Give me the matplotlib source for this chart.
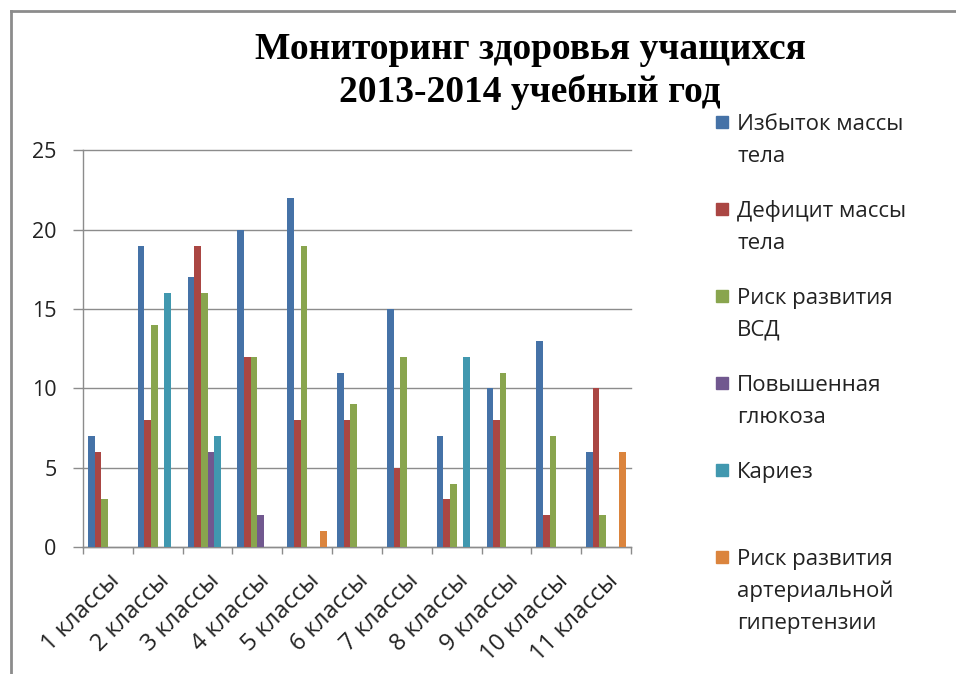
import numpy as np
import matplotlib
matplotlib.use("Agg")
import matplotlib.pyplot as plt
import matplotlib.transforms as mtransforms
from matplotlib.lines import Line2D
from matplotlib.patches import Rectangle

categories = ["1 классы", "2 классы", "3 классы", "4 классы", "5 классы", "6 классы",
              "7 классы", "8 классы", "9 классы", "10 классы", "11 классы"]
series_names = ["Избыток массы\nтела", "Дефицит массы\nтела", "Риск развития\nВСД",
                "Повышенная\nглюкоза", "Кариез", "Риск развития\nартериальной\nгипертензии"]
excess_weight = [7, 19, 17, 20, 22, 11, 15, 7, 10, 13, 6]
weight_deficit = [6, 8, 19, 12, 8, 8, 5, 3, 8, 2, 10]
vsd_risk = [3, 14, 16, 12, 19, 9, 12, 4, 11, 7, 2]
high_glucose = [0, 0, 6, 2, 0, 0, 0, 0, 0, 0, 0]
caries = [0, 16, 7, 0, 0, 0, 0, 12, 0, 0, 0]
hypertension_risk = [0, 0, 0, 0, 1, 0, 0, 0, 0, 0, 6]
yticks = [0, 5, 10, 15, 20, 25]
title = "Мониторинг здоровья учащихся\n2013-2014 учебный год"

series = [excess_weight, weight_deficit, vsd_risk, high_glucose, caries, hypertension_risk]
colors = ["#4572A7", "#AA4643", "#89A54E", "#71588F", "#4198AF", "#DB843D"]

FONT = "Open Sans"
W, H = 956, 674
fig = plt.figure(figsize=(W / 100, H / 100), dpi=100)
fig.patch.set_facecolor("white")

ax = fig.add_axes([83 / W, 1 - 547 / H, (631 - 83) / W, (547 - 150.5) / H])
n = len(series)
gap = 1.5
w = 1.0 / (n + gap)
x = np.arange(len(categories))
for k, (vals, c) in enumerate(zip(series, colors)):
    pos = x - 0.5 + gap * w / 2 + (k + 0.5) * w
    ax.bar(pos, vals, width=w, color=c, edgecolor="none", zorder=3)

ax.set_xlim(-0.5, len(categories) - 0.5)
ax.set_ylim(0, 25)
ax.set_yticks(yticks)
ax.set_yticklabels([str(v) for v in yticks], fontfamily=FONT, fontsize=15.5, color="#222222")
ax.yaxis.grid(True, color="#8c8c8c", linewidth=1.0, zorder=0)
for gl in ax.get_ygridlines():
    gl.set_clip_on(False)
ax.set_xticks(x)
ax.set_xticklabels(categories, rotation=45, ha="right", va="top", rotation_mode="anchor",
                   fontfamily=FONT, fontsize=17, color="#222222")
offset = mtransforms.ScaledTranslation(5 / 100, 0, fig.dpi_scale_trans)
for lab in ax.get_xticklabels():
    lab.set_transform(lab.get_transform() + offset)
ax.set_xticks(np.arange(len(categories) + 1) - 0.5, minor=True)
ax.tick_params(axis="x", which="major", length=0, pad=16)
ax.tick_params(axis="x", which="minor", length=5, color="#8c8c8c", width=1.0)
ax.tick_params(axis="y", length=7, color="#8c8c8c", width=1.0, pad=12)
for s in ["top", "right"]:
    ax.spines[s].set_visible(False)
for s in ["left", "bottom"]:
    ax.spines[s].set_color("#8c8c8c")
    ax.spines[s].set_linewidth(1.0)

# Title
fig.text(530 / W, 1 - 71 / H, title, ha="center", va="center", fontfamily="Liberation Serif",
         fontweight="bold", fontsize=27, linespacing=1.3, color="black")

# Legend
y0 = 122
step = 87
line_h = 32
for k, (name, c) in enumerate(zip(series_names, colors)):
    yc = y0 + k * step
    fig.add_artist(Rectangle((716 / W, 1 - (yc + 6) / H), 12 / W, 12 / H,
                             transform=fig.transFigure, color=c))
    for j, line in enumerate(name.split("\n")):
        fig.text(737 / W, 1 - (yc + j * line_h) / H, line, ha="left", va="center_baseline",
                 fontfamily=FONT, fontsize=16, color="#222222")

# Frame
fig.add_artist(Line2D([11 / W, 1], [1 - 11 / H, 1 - 11 / H], transform=fig.transFigure,
                      color="#8c8c8c", linewidth=2))
fig.add_artist(Line2D([11 / W, 11 / W], [1 - 11 / H, 0], transform=fig.transFigure,
                      color="#8c8c8c", linewidth=2))

fig.savefig("out.png", dpi=100)
